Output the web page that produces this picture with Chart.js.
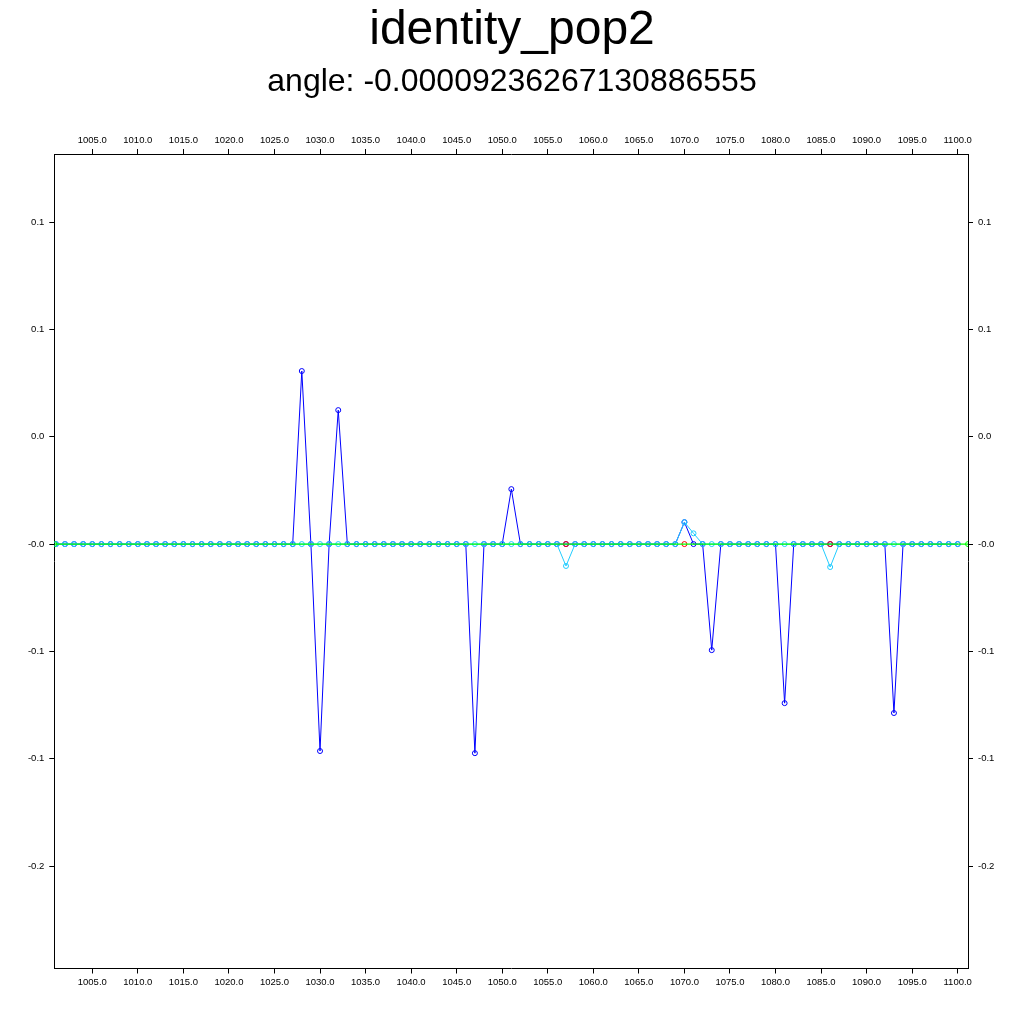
<!DOCTYPE html>
<html>
<head>
<meta charset="utf-8">
<script src="https://cdn.jsdelivr.net/npm/chart.js@4.4.1/dist/chart.umd.min.js"></script>
<style>
html,body{margin:0;padding:0;background:#fff;}
canvas{display:block;}
</style>
</head>
<body>
<canvas id="c" width="1024" height="1024"></canvas>
<script>
const titleText = "identity_pop2";
const subtitleText = "angle: -0.00009236267130886555";

const xs = [1001,1002,1003,1004,1005,1006,1007,1008,1009,1010,
            1011,1012,1013,1014,1015,1016,1017,1018,1019,1020,
            1021,1022,1023,1024,1025,1026,1027,1028,1029,1030,
            1031,1032,1033,1034,1035,1036,1037,1038,1039,1040,
            1041,1042,1043,1044,1045,1046,1047,1048,1049,1050,
            1051,1052,1053,1054,1055,1056,1057,1058,1059,1060,
            1061,1062,1063,1064,1065,1066,1067,1068,1069,1070,
            1071,1072,1073,1074,1075,1076,1077,1078,1079,1080,
            1081,1082,1083,1084,1085,1086,1087,1088,1089,1090,
            1091,1092,1093,1094,1095,1096,1097,1098,1099,1100];

const blueValues = [0,0,0,0,0,0,0,0,0,0,
                    0,0,0,0,0,0,0,0,0,0,
                    0,0,0,0,0,0,0,0.0806,0,-0.0964,
                    0,0.0624,0,0,0,0,0,0,0,0,
                    0,0,0,0,0,0,-0.0974,0,0,0,
                    0.0256,0,0,0,0,0,0,0,0,0,
                    0,0,0,0,0,0,0,0,0,0.0102,
                    0,0,-0.0494,0,0,0,0,0,0,0,
                    -0.0741,0,0,0,0,0,0,0,0,0,
                    0,0,-0.0787,0,0,0,0,0,0,0];

const cyanValues = [0,0,0,0,0,0,0,0,0,0,
                    0,0,0,0,0,0,0,0,0,0,
                    0,0,0,0,0,0,0,0,0,0,
                    0,0,0,0,0,0,0,0,0,0,
                    0,0,0,0,0,0,0,0,0,0,
                    0,0,0,0,0,0,-0.0102,0,0,0,
                    0,0,0,0,0,0,0,0,0,0.0102,
                    0.0050,0,0,0,0,0,0,0,0,0,
                    0,0,0,0,0,-0.0107,0,0,0,0,
                    0,0,0,0,0,0,0,0,0,0];

const redXs = [1057, 1070, 1086];
const redValues = [0, 0, 0];

const greenXs = [1000.83, 1101.13];
const greenValues = [0, 0];

const xTicks = [1005,1010,1015,1020,1025,1030,1035,1040,1045,1050,
                1055,1060,1065,1070,1075,1080,1085,1090,1095,1100];
const yTicks = [0.15, 0.1, 0.05, 0, -0.05, -0.1, -0.15];
const yTickLabels = ["0.1", "0.1", "0.0", "-0.0", "-0.1", "-0.1", "-0.2"];

const xMin = 1000.83, xMax = 1101.13;
const yMin = -0.1977, yMax = 0.1817;

const pts = (xv, yv) => xv.map((x, i) => ({x: x, y: yv[i]}));

const tickFont = {family: "'Liberation Sans', Arial, sans-serif", size: 9.5};

function xScale(pos) {
  return {
    type: 'linear', position: pos, min: xMin, max: xMax,
    afterBuildTicks: s => { s.ticks = xTicks.map(v => ({value: v})); },
    ticks: {callback: v => Number(v).toFixed(1), font: tickFont, color: '#000',
            padding: 3, maxRotation: 0, autoSkip: false},
    grid: {drawOnChartArea: false, drawTicks: true, tickLength: 5, color: '#000', lineWidth: 1},
    border: {display: true, color: '#000', width: 1},
    afterFit: s => { s.height = 55.5; }
  };
}
function yScale(pos, w) {
  return {
    type: 'linear', position: pos, min: yMin, max: yMax,
    afterBuildTicks: s => { s.ticks = yTicks.map(v => ({value: v})); },
    ticks: {callback: (v, i) => yTickLabels[i], font: tickFont, color: '#000',
            padding: 5, autoSkip: false},
    grid: {drawOnChartArea: false, drawTicks: true, tickLength: 5, color: '#000', lineWidth: 1},
    border: {display: true, color: '#000', width: 1},
    afterFit: s => { s.width = w; }
  };
}

new Chart(document.getElementById('c'), {
  type: 'line',
  data: {
    datasets: [
      {label: 'reference', data: pts(greenXs, greenValues), borderColor: '#00ff00',
       pointBorderColor: '#00ff00', pointBackgroundColor: 'rgba(0,0,0,0)',
       borderWidth: 1.2, pointRadius: 2.5, pointBorderWidth: 1, order: 0,
       xAxisID: 'x', yAxisID: 'y'},
      {label: 'cyan', data: pts(xs, cyanValues), borderColor: '#22ccff',
       pointBorderColor: '#22ccff', pointBackgroundColor: 'rgba(0,0,0,0)',
       borderWidth: 1, pointRadius: 2.5, pointBorderWidth: 1, order: 1,
       xAxisID: 'x', yAxisID: 'y'},
      {label: 'red', data: pts(redXs, redValues), showLine: false,
       pointBorderColor: '#ff0000', pointBackgroundColor: 'rgba(0,0,0,0)',
       pointRadius: 2.5, pointBorderWidth: 1, order: 2,
       xAxisID: 'x', yAxisID: 'y'},
      {label: 'blue', data: pts(xs, blueValues), borderColor: '#0000ff',
       pointBorderColor: '#0000ff', pointBackgroundColor: 'rgba(0,0,0,0)',
       borderWidth: 1, pointRadius: 2.5, pointBorderWidth: 1, order: 3,
       xAxisID: 'x', yAxisID: 'y'}
    ]
  },
  options: {
    responsive: false, animation: false, devicePixelRatio: 1,
    layout: {padding: 0},
    plugins: {
      legend: {display: false},
      tooltip: {enabled: false},
      title: {display: true, text: titleText, color: '#000',
              font: {family: "'Liberation Sans', Arial, sans-serif", size: 48, weight: 'normal', lineHeight: 1},
              padding: {top: 7, bottom: 0}},
      subtitle: {display: true, text: subtitleText, color: '#000',
              font: {family: "'Liberation Sans', Arial, sans-serif", size: 32, weight: 'normal', lineHeight: 1},
              padding: {top: 11.5, bottom: 0}}
    },
    scales: {
      x: xScale('bottom'),
      x2: xScale('top'),
      y: yScale('left', 54.3),
      y2: yScale('right', 56)
    }
  }
});
</script>
</body>
</html>
